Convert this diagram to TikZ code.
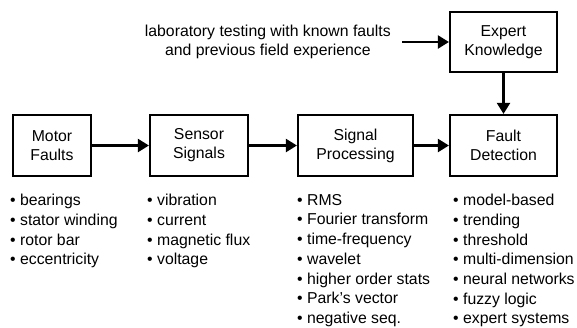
\documentclass[tikz,border=0pt]{standalone}
\usepackage{fontspec}
\setmainfont{Liberation Sans}
\usetikzlibrary{arrows.meta}
\begin{document}
\begin{tikzpicture}[x=1pt,y=-1pt,
  box/.style={draw, line width=2.2pt, align=center, inner sep=0pt,
    minimum height=61pt, font=\fontsize{15.8}{19}\selectfont},
  lst/.style={anchor=north west, align=left, inner sep=0pt,
    font=\fontsize{15.8}{19.7}\selectfont},
  arr/.style={line width=2.2pt, -{Triangle[length=11pt,width=13pt]}}]
\useasboundingbox (0,0) rectangle (577,327);
% boxes
\node[box, minimum width=78pt]  (mf)  at (52,145.5)    {Motor\\Faults};
\node[box, minimum width=98pt]  (ss)  at (199,145.5)   {Sensor\\Signals};
\node[box, minimum width=115pt] (sp)  at (355.5,145.5) {Signal\\Processing};
\node[box, minimum width=107pt] (fd)  at (503.5,145.5) {Fault\\Detection};
\node[box, minimum width=107pt, minimum height=60pt] (exp) at (503.5,42) {Expert\\Knowledge};
% top text
\node[anchor=east, align=center, inner sep=0pt,
  font=\fontsize{15.8}{19}\selectfont] (lab) at (391,42)
  {laboratory testing with known faults\\and previous field experience};
\coordinate (labtail) at (402,42);
% arrows
\draw[arr] (labtail) -- (exp.west);
\draw[arr] (exp.south) -- (fd.north);
\draw[arr] (mf.east) -- (ss.west);
\draw[arr] (ss.east) -- (sp.west);
\draw[arr] (sp.east) -- (fd.west);
% lists
\node[lst] (l1) at (10,194) {• bearings\\• stator winding\\• rotor bar\\• eccentricity};
\node[lst] (l2) at (147,194) {• vibration\\• current\\• magnetic flux\\• voltage};
\node[lst] (l3) at (297,194) {• RMS\\• Fourier transform\\• time-frequency\\• wavelet\\• higher order stats\\• Park’s vector\\• negative seq.};
\node[lst] (l4) at (453,194) {• model-based\\• trending\\• threshold\\• multi-dimension\\• neural networks\\• fuzzy logic\\• expert systems};
\end{tikzpicture}
\end{document}
